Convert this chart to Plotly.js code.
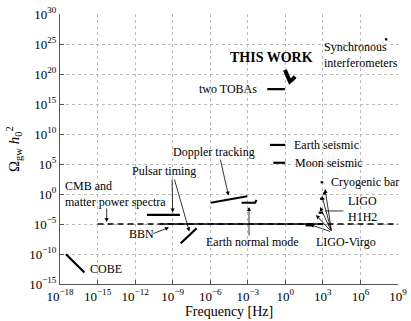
<!DOCTYPE html>
<html><head><meta charset="utf-8">
<script src="https://cdn.plot.ly/plotly-3.0.1.min.js"></script>
<style>html,body{margin:0;padding:0;background:#fff}#c{width:411px;height:321px}</style>
</head><body><div id="c"></div>
<script>
// ---- data (frequency in Hz, Omega_gw h0^2) ----
const cobeF = [3e-18, 9e-17];            const cobeO = [9e-11, 8e-14];
const cmbF = [1e-15, 1e9];               const cmbO = [1e-5, 1e-5];
const bbnF = [1e-10, 1e3];               const bbnO = [1e-5, 1e-5];
const pulsar1F = [9e-12, 3.8e-9];        const pulsar1O = [3.2e-4, 3.2e-4];
const pulsar2F = [4.4e-9, 8.3e-8];       const pulsar2O = [6.3e-9, 2e-6];
const dopplerF = [1.1e-6, 9e-4];         const dopplerO = [0.035, 0.42];
const earthNormF = [3.2e-4, 3.8e-3, 5e-3]; const earthNormO = [0.035, 0.035, 0.1];
const earthSeisF = [0.06, 1.0];          const earthSeisO = [1.5e8, 1.5e8];
const moonSeisF = [0.11, 1.0];           const moonSeisO = [1.6e5, 1.6e5];
const tobasF = [0.036, 0.93];            const tobasO = [3e17, 3e17];
const thisWorkF = [0.93, 1.6, 2.3, 4.1, 5.9]; const thisWorkO = [4.6e20, 2.1e19, 5.6e18, 1.5e19, 3.8e19];
const syncF = [9e7, 1.4e8];              const syncO = [6e25, 6e25];
const cryoF = [660, 1070];               const cryoO = [90, 90];
const lvF = [42, 170];                   const lvO = [6.9e-6, 6.9e-6];
const h1h2F = [460, 1000];               const h1h2O = [7.7e-4, 7.7e-4];
const lvHi1F = [600, 1000];              const lvHi1O = [0.16, 0.16];
const lvHi2F = [1000, 1726];             const lvHi2O = [1.2, 1.2];

const xTickVals = [1e-18,1e-15,1e-12,1e-9,1e-6,1e-3,1,1e3,1e6,1e9];
const xTickText = ['−18','−15','−12','−9','−6','−3','0','3','6','9'].map(e=>'10<sup>'+e+'</sup>');
const yTickVals = [1e-15,1e-10,1e-5,1,1e5,1e10,1e15,1e20,1e25,1e30];
const yTickText = ['−15','−10','−5','0','5','10','15','20','25','30'].map(e=>'10<sup>'+e+'</sup>');

const L = Math.log10;
const seg = (x, y, w, dash) => ({x, y, type:'scatter', mode:'lines', line:{color:'#000', width:w, dash:dash||'solid'}, hoverinfo:'skip', showlegend:false});

const traces = [
  seg(cmbF, cmbO, 1.5, '6px,4px'),
  seg(bbnF, bbnO, 1.5),
  seg(cobeF, cobeO, 2.2),
  seg(pulsar1F, pulsar1O, 2.2),
  seg(pulsar2F, pulsar2O, 2.2),
  seg(dopplerF, dopplerO, 2.2),
  seg(earthNormF, earthNormO, 2.2),
  seg(earthSeisF, earthSeisO, 2.2),
  seg(moonSeisF, moonSeisO, 2.2),
  seg(tobasF, tobasO, 2.2),
  seg(thisWorkF, thisWorkO, 4),
  seg(syncF, syncO, 2.2),
  seg(cryoF, cryoO, 2.2),
  seg(lvF, lvO, 3),
  seg(h1h2F, h1h2O, 2.2),
  seg(lvHi1F, lvHi1O, 2.2),
  seg(lvHi2F, lvHi2O, 2.2)
];

const FONT = '"Liberation Serif", serif';
const txt = (t, f, o, xa, size, bold) => ({x:L(f), y:L(o), xref:'x', yref:'y', text: bold? '<b>'+t+'</b>' : t, showarrow:false, xanchor:xa||'left', yanchor:'middle', align:'left', font:{family:FONT, size:size||12, color:'#000'}});
const arr = (tf, to, hf, ho, head) => ({x:L(hf), y:L(ho), ax:L(tf), ay:L(to), xref:'x', yref:'y', axref:'x', ayref:'y', text:'', showarrow:true, arrowhead: head===undefined?2:head, arrowsize:1, arrowwidth:0.8, arrowcolor:'#000', standoff:0, startstandoff:0});

const annotations = [
  txt('THIS WORK', 10**-1.07, 10**22.67, 'center', 14, true),
  txt('Synchronous<br>interferometers', 10**2.9, 10**23.17, 'left'),
  txt('two TOBAs', 10**-2.08, 10**17.45, 'right'),
  txt('Doppler tracking', 10**-5.72, 1e7, 'center'),
  txt('Earth seismic', 10**0.53, 10**8.17, 'left'),
  txt('Moon seismic', 10**0.59, 10**5.17, 'left'),
  txt('Cryogenic bar', 10**3.51, 10**1.95, 'left'),
  txt('LIGO<br>H1H2', 10**4.84, 10**-2.5, 'left'),
  txt('LIGO-Virgo', 10**4.84, 10**-8.08, 'center'),
  txt('Earth normal mode', 10**-6.5, 10**-7.95, 'left'),
  txt('Pulsar timing', 10**-9.66, 10**3.88, 'center'),
  txt('CMB and<br>matter power spectra', 10**-17.78, 10**0.08, 'left'),
  txt('BBN', 10**-12.65, 10**-6.67, 'left'),
  txt('COBE', 10**-15.74, 10**-12.45, 'left'),
  arr(10**-14.27, 10**-2.17, 10**-14.27, 10**-4.67),
  arr(10**-10.65, 10**-6.67, 10**-9.29, 10**-5.58),
  arr(10**-9.05, 10**2.67, 10**-9.0, 10**-3.08),
  arr(10**-8.89, 10**2.67, 10**-7.67, 10**-6.25),
  arr(10**-5.22, 1e6, 10**-4.54, 10**-0.25),
  arr(10**-2.9, 10**-7.17, 10**-2.9, 10**-2.17),
  arr(10**4.76, 10**-2.83, 10**3.17, 10**-2.83, 0),
  arr(10**3.7, 10**-6.33, 10**1.97, 10**-5.08),
  arr(10**3.7, 10**-6.33, 10**2.45, 10**-3.5),
  arr(10**3.7, 10**-6.33, 10**2.77, 10**-2.17),
  arr(10**3.7, 10**-6.33, 10**2.93, 10**-0.33),
  arr(10**3.7, 10**-6.33, 10**3.17, 10**0.83),
  {x:0.5, y:-0.1, xref:'paper', yref:'paper', text:'Frequency [Hz]', showarrow:false, xanchor:'center', yanchor:'middle', font:{family:FONT, size:14, color:'#000'}},
  {x:-0.136, y:0.5, xref:'paper', yref:'paper', text:'Ω<sub>gw</sub> <i>h</i><sub>0</sub><sup>2</sup>', textangle:-90, showarrow:false, xanchor:'center', yanchor:'middle', font:{family:FONT, size:15, color:'#000'}}
];

const axisCommon = {type:'log', showgrid:true, gridcolor:'#bbb', griddash:'dot', gridwidth:1, zeroline:false,
  showline:true, linecolor:'#555', linewidth:1, ticks:'inside', ticklen:4, tickcolor:'#555', mirror:false,
  tickmode:'array', tickfont:{family:FONT, size:13, color:'#000'}};

const layout = {
  width:411, height:321, margin:{l:60, r:13, t:14, b:37}, paper_bgcolor:'#fff', plot_bgcolor:'#fff',
  font:{family:FONT, size:12, color:'#000'},
  xaxis: Object.assign({}, axisCommon, {range:[-18, 9], tickvals:xTickVals, ticktext:xTickText}),
  yaxis: Object.assign({}, axisCommon, {range:[-15, 30], tickvals:yTickVals, ticktext:yTickText}),
  annotations, showlegend:false
};
Plotly.newPlot('c', traces, layout, {staticPlot:true, displayModeBar:false});
</script></body></html>
